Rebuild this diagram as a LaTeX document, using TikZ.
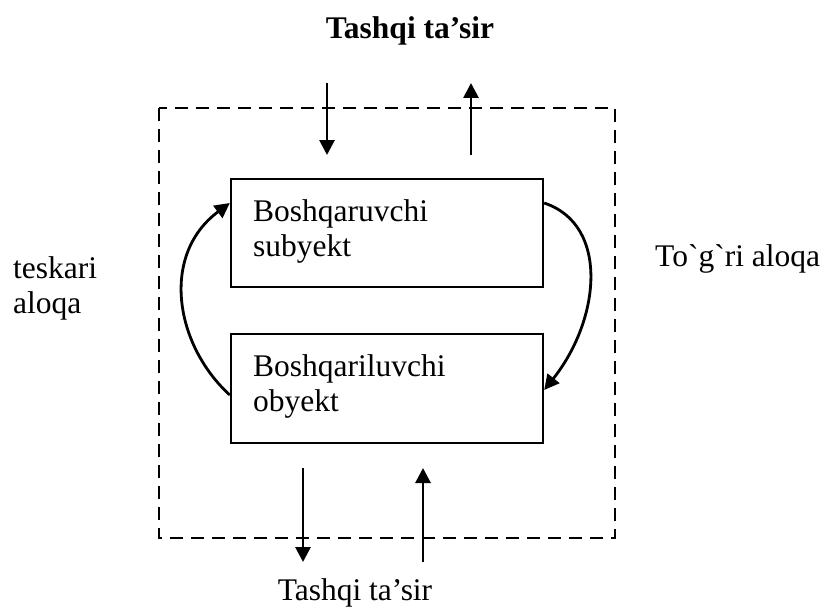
\documentclass[tikz,border=0pt]{standalone}
\usepackage{fontspec}
\newfontfamily\tnr{Liberation Serif}
\usetikzlibrary{arrows.meta}
\begin{document}
\begin{tikzpicture}[x=1pt,y=-1pt,
  txt/.style={inner sep=0pt,align=left,font=\tnr\fontsize{31.5}{35}\selectfont},
  blk/.style={draw,line width=2.4pt,minimum width=312pt,minimum height=108pt,inner sep=0pt},
  arr/.style={line width=2.8pt,-{Triangle[length=15pt,width=15pt]}},
  frame/.style={line width=2.2pt,dash pattern=on 13pt off 8pt}
]
\useasboundingbox (0,0) rectangle (826,607);
\draw[frame] (159,108) rectangle (615,538);
\node[blk] (sub) at (387,233) {};
\node[blk,minimum height=109pt] (obj) at (387,388.5) {};
\node[txt,anchor=base west] (subt) at (253,256) {Boshqaruvchi\\subyekt};
\node[txt,anchor=base west] (objt) at (253,411) {Boshqariluvchi\\obyekt};
\node[txt,anchor=base,font=\tnr\bfseries\fontsize{31.5}{35}\selectfont] (title) at (410,39) {Tashqi ta’sir};
\node[txt,anchor=base] (bot) at (355,600) {Tashqi ta’sir};
\node[txt,anchor=base west] (left) at (13,313) {teskari\\aloqa};
\node[txt,anchor=base west] (right) at (655,266) {To\symbol{96}g\symbol{96}ri aloqa};
\coordinate (a1s) at (327,83); \coordinate (a1e) at (327,155);
\coordinate (a2s) at (471,155); \coordinate (a2e) at (471,83);
\coordinate (a3s) at (303,468); \coordinate (a3e) at (303,562);
\coordinate (a4s) at (423,562); \coordinate (a4e) at (423,468);
\draw[arr] (a1s) -- (a1e);
\draw[arr] (a2s) -- (a2e);
\draw[arr] (a3s) -- (a3e);
\draw[arr] (a4s) -- (a4e);
\draw[arr] (obj.west |- 0,395) .. controls (175,345) and (160,255) .. (sub.west |- 0,203);
\draw[arr] (sub.east |- 0,203) .. controls (610,225) and (600,320) .. (obj.east |- 0,390);
\end{tikzpicture}
\end{document}
